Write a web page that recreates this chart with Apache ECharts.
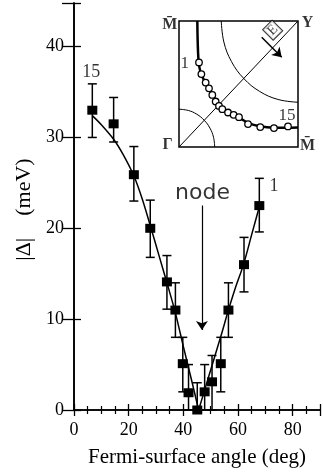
<!DOCTYPE html>
<html>
<head>
<meta charset="utf-8">
<script src="https://cdn.jsdelivr.net/npm/echarts@6/dist/echarts.min.js"></script>
<style>
  html, body { margin: 0; padding: 0; background: #fff; }
  #chart { width: 323px; height: 473px; }
</style>
</head>
<body>
<div id="chart"></div>
<script>
// Superconducting gap |Δ| versus Fermi-surface angle (points numbered 15 … 1 from left to right)
const angle   = [6.7, 14.5, 21.9, 27.9, 34.0, 37.1, 39.8, 41.9, 45.1, 47.8, 50.5, 53.7, 56.5, 62.2, 67.8];
const gap     = [33.0, 31.5, 25.9, 20.0, 14.1, 11.0, 5.1, 1.9, 0.0, 2.0, 3.1, 5.1, 11.0, 16.0, 22.5];
const gapLow  = [30.0, 29.5, 23.0, 16.8, 11.1, 8.0, 2.0, 0.0, 0.0, 0.0, 0.0, 2.0, 8.0, 13.0, 19.6];
const gapHigh = [35.9, 34.4, 29.0, 23.1, 17.0, 14.0, 8.0, 5.0, 3.0, 5.0, 6.0, 8.0, 14.0, 19.0, 25.5];

// d-wave fit, left branch and right branch of the V around the node
const fitLeftX  = [6.7, 10, 14.5, 18, 22, 25, 28, 31, 34, 37, 40, 43, 45.6];
const fitLeftY  = [32.4, 31.4, 29.8, 28.1, 25.7, 23.2, 20.2, 17.1, 14.0, 10.8, 7.0, 3.3, 0.0];
const fitRightX = [45.6, 48, 51, 54, 56.5, 59, 62, 65, 68];
const fitRightY = [0.0, 2.4, 5.4, 8.4, 11.0, 13.4, 16.0, 19.3, 22.6];

// Axis ticks
const xTicks = [0, 20, 40, 60, 80];
const yTicks = [0, 10, 20, 30, 40];

// Point-number and node annotations (data coordinates)
const numLabels = [{ text: '15', x: 6.3, y: 37.2 }, { text: '1', x: 73.2, y: 24.6 }];
const nodeText = { text: 'node', x: 47.0, y: 23.9 };
const nodeArrow = { x: 46.8, from: 22.5, to: 8.8 };

// Inset: Brillouin-zone quadrant Γ(0,0) – Y(1,1), coordinates in units of the quadrant
const fsX = [0.154, 0.157, 0.163, 0.172, 0.188, 0.222, 0.28, 0.336, 0.41, 0.50, 0.58, 0.68, 0.80, 0.90, 1.0];
const fsY = [1.0, 0.84, 0.70, 0.63, 0.575, 0.51, 0.415, 0.33, 0.275, 0.235, 0.192, 0.165, 0.153, 0.152, 0.155];
const kX = [0.168, 0.188, 0.224, 0.252, 0.280, 0.308, 0.336, 0.364, 0.412, 0.459, 0.504, 0.580, 0.683, 0.798, 0.916];
const kY = [0.671, 0.579, 0.511, 0.466, 0.413, 0.361, 0.326, 0.300, 0.274, 0.255, 0.237, 0.182, 0.158, 0.150, 0.163];
const arcYX = [0.355, 0.377, 0.441, 0.544, 0.678, 0.833, 1.0];
const arcYY = [1.0, 0.833, 0.678, 0.544, 0.441, 0.377, 0.355];
const arcGX = [0.30, 0.29, 0.26, 0.212, 0.15, 0.078, 0.0];
const arcGY = [0.0, 0.078, 0.15, 0.212, 0.26, 0.29, 0.30];
const diagX = [0, 1];
const diagY = [0, 1];
const cornerLabels = [
  { text: 'M\u0304', x: -0.078, y: 0.966 },
  { text: 'Y', x: 1.08, y: 0.982 },
  { text: '\u0393', x: -0.095, y: 0.018 },
  { text: 'M\u0304', x: 1.08, y: 0.01 }
];
const insetNums = [{ text: '1', x: 0.048, y: 0.666 }, { text: '15', x: 0.908, y: 0.25 }];
const eLabel = { text: 'E', x: 0.787, y: 0.927 };
const eArrow = { x0: 0.695, y0: 0.871, x1: 0.863, y1: 0.713 };

const SERIF = '"Liberation Serif", "Times New Roman", serif';
const SANS = '"DejaVu Sans", sans-serif';
const zip = (a, b) => a.map((v, i) => [v, b[i]]);

const chart = echarts.init(document.getElementById('chart'), null, { renderer: 'canvas' });

const tickLabel = (list) => (v) => (list.indexOf(v) >= 0 ? String(v) : '');

const mainX = {
  type: 'value', gridIndex: 0, min: 0, max: 90, interval: 20,
  axisLine: { lineStyle: { color: '#000', width: 1.6 } },
  axisTick: { inside: true, length: 6, lineStyle: { color: '#000', width: 1.3 } },
  minorTick: { show: true, splitNumber: 4, length: 4, lineStyle: { color: '#000', width: 1.2 } },
  splitLine: { show: false }
};
const mainY = {
  type: 'value', gridIndex: 0, min: 0, max: 44.8, interval: 10,
  axisLine: { lineStyle: { color: '#000', width: 1.6 } },
  axisTick: { inside: true, length: 7, lineStyle: { color: '#000', width: 1.3 } },
  splitLine: { show: false }
};

const option = {
  animation: false,
  backgroundColor: '#fff',
  grid: [
    { left: 74, top: 3, right: -7, bottom: 63 },
    { left: 179, top: 21, width: 119, height: 126, show: true, backgroundColor: '#fff',
      borderColor: '#000', borderWidth: 1.5, z: 5 }
  ],
  xAxis: [
    Object.assign({}, mainX, {
      position: 'bottom',
      axisLabel: { fontFamily: SERIF, fontSize: 18, color: '#000', margin: 11, formatter: tickLabel(xTicks) },
      name: 'Fermi-surface angle (deg)', nameLocation: 'middle', nameGap: 37,
      nameTextStyle: { fontFamily: SERIF, fontSize: 21, color: '#000' }
    }),
    Object.assign({}, mainX, { position: 'top', axisLabel: { show: false } }),
    { type: 'value', gridIndex: 1, min: 0, max: 1, show: false }
  ],
  yAxis: [
    Object.assign({}, mainY, {
      position: 'left',
      axisLabel: { fontFamily: SERIF, fontSize: 18, color: '#000', margin: 10, formatter: tickLabel(yTicks) },
      name: '|\u0394|    (meV)', nameLocation: 'middle', nameGap: 38, nameRotate: 90,
      nameTextStyle: { fontFamily: SERIF, fontSize: 22, color: '#000', padding: [0, 6, 0, 0] }
    }),
    Object.assign({}, mainY, { position: 'right', axisLabel: { show: false },
      axisTick: { inside: true, length: 12, lineStyle: { color: '#000', width: 1.3 } } }),
    { type: 'value', gridIndex: 1, min: 0, max: 1, show: false }
  ],
  series: [
    // fit curve
    { type: 'line', xAxisIndex: 0, yAxisIndex: 0, data: zip(fitLeftX, fitLeftY), smooth: 0.3,
      symbol: 'none', lineStyle: { color: '#000', width: 1.5 }, z: 2 },
    { type: 'line', xAxisIndex: 0, yAxisIndex: 0, data: zip(fitRightX, fitRightY), smooth: 0.3,
      symbol: 'none', lineStyle: { color: '#000', width: 1.5 }, z: 2 },
    // error bars
    {
      type: 'custom', xAxisIndex: 0, yAxisIndex: 0, z: 3,
      data: angle.map((a, i) => [a, gapLow[i], gapHigh[i]]),
      renderItem: function (params, api) {
        const x = api.value(0);
        const lo = api.coord([x, api.value(1)]);
        const hi = api.coord([x, api.value(2)]);
        const w = 4.5;
        const st = { stroke: '#000', lineWidth: 1.5 };
        return {
          type: 'group',
          children: [
            { type: 'line', shape: { x1: lo[0], y1: lo[1], x2: hi[0], y2: hi[1] }, style: st },
            { type: 'line', shape: { x1: lo[0] - w, y1: lo[1], x2: lo[0] + w, y2: lo[1] }, style: st },
            { type: 'line', shape: { x1: hi[0] - w, y1: hi[1], x2: hi[0] + w, y2: hi[1] }, style: st }
          ]
        };
      }
    },
    // data points
    { type: 'scatter', xAxisIndex: 0, yAxisIndex: 0, data: zip(angle, gap), symbol: 'rect',
      symbolSize: [10, 9], itemStyle: { color: '#000', opacity: 1 }, clip: false, z: 4 },
    // point numbers
    { type: 'scatter', xAxisIndex: 0, yAxisIndex: 0, symbolSize: 0, clip: false, z: 4,
      data: numLabels.map(d => ({ value: [d.x, d.y], label: { formatter: d.text } })),
      label: { show: true, position: 'inside', fontFamily: SERIF, fontSize: 18, color: '#000' } },
    // node annotation
    { type: 'scatter', xAxisIndex: 0, yAxisIndex: 0, symbolSize: 0, clip: false, z: 4,
      data: [{ value: [nodeText.x, nodeText.y], label: { formatter: nodeText.text } }],
      label: { show: true, position: 'inside', fontFamily: SANS, fontSize: 22, color: '#000' } },
    { type: 'lines', coordinateSystem: 'cartesian2d', xAxisIndex: 0, yAxisIndex: 0, z: 4,
      data: [{ coords: [[nodeArrow.x, nodeArrow.from], [nodeArrow.x, nodeArrow.to]] }],
      symbol: ['none', 'arrow'], symbolSize: [0, 9],
      lineStyle: { color: '#000', width: 1.2, opacity: 1 } },

    // inset
    { type: 'line', xAxisIndex: 2, yAxisIndex: 2, data: zip(diagX, diagY), symbol: 'none',
      lineStyle: { color: '#000', width: 1 }, z: 6 },
    { type: 'line', xAxisIndex: 2, yAxisIndex: 2, data: zip(arcYX, arcYY), symbol: 'none', smooth: 0.4,
      lineStyle: { color: '#000', width: 1 }, z: 6 },
    { type: 'line', xAxisIndex: 2, yAxisIndex: 2, data: zip(arcGX, arcGY), symbol: 'none', smooth: 0.4,
      lineStyle: { color: '#000', width: 1 }, z: 6 },
    { type: 'line', xAxisIndex: 2, yAxisIndex: 2, data: zip(fsX, fsY), symbol: 'none', smooth: 0.4,
      lineStyle: { color: '#000', width: 2.5 }, z: 6 },
    { type: 'scatter', xAxisIndex: 2, yAxisIndex: 2, data: zip(kX, kY), symbol: 'circle', symbolSize: 6.5,
      itemStyle: { color: '#fff', borderColor: '#000', borderWidth: 1.3, opacity: 1 }, z: 7 },
    { type: 'scatter', xAxisIndex: 2, yAxisIndex: 2, symbolSize: 0, clip: false, z: 7,
      data: cornerLabels.map(d => ({ value: [d.x, d.y], label: { formatter: d.text } })),
      label: { show: true, position: 'inside', fontFamily: SERIF, fontWeight: 'bold', fontSize: 16, color: '#000' } },
    { type: 'scatter', xAxisIndex: 2, yAxisIndex: 2, symbolSize: 0, clip: false, z: 7,
      data: insetNums.map(d => ({ value: [d.x, d.y], label: { formatter: d.text } })),
      label: { show: true, position: 'inside', fontFamily: SERIF, fontSize: 17, color: '#000' } },
    { type: 'lines', coordinateSystem: 'cartesian2d', xAxisIndex: 2, yAxisIndex: 2, z: 7,
      data: [{ coords: [[eArrow.x0, eArrow.y0], [eArrow.x1, eArrow.y1]] }],
      symbol: ['none', 'arrow'], symbolSize: [0, 9],
      lineStyle: { color: '#000', width: 1.5, opacity: 1 } },
    { type: 'scatter', xAxisIndex: 2, yAxisIndex: 2, symbolSize: 0, clip: false, z: 8,
      data: [{ value: [eLabel.x, eLabel.y], label: { formatter: eLabel.text } }],
      label: { show: true, position: 'inside', rotate: 45, fontFamily: SERIF, fontSize: 14, color: '#000',
        backgroundColor: '#fff', borderColor: '#000', borderWidth: 1, padding: [0, 2, 0, 2] } }
  ]
};

chart.setOption(option);
</script>
</body>
</html>
